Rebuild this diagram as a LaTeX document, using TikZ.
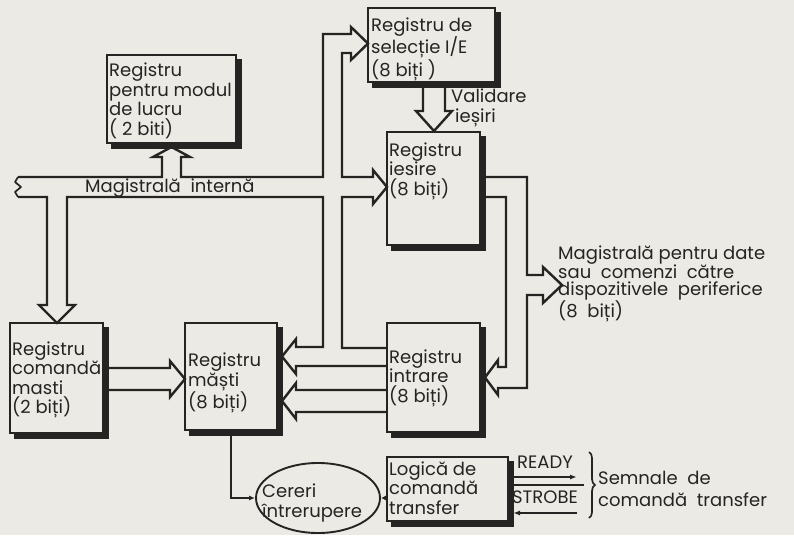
\documentclass[tikz,border=0pt]{standalone}
\usepackage{fontspec}
\setmainfont{Poppins}
\usetikzlibrary{arrows.meta,calc,decorations.pathreplacing,shapes.geometric}
\definecolor{paper}{RGB}{236,234,229}
\definecolor{ink}{RGB}{38,36,34}
\begin{document}
\begin{tikzpicture}[x=1pt,y=-1pt,
  regbox/.style={draw=ink,line width=1.9pt,inner sep=0pt,outer sep=0pt},
  shadeline/.style={draw=ink,line width=5pt,line cap=butt,line join=miter},
  lbl/.style={align=left,anchor=west,inner sep=0pt,text=ink,font=\fontsize{18}{19.5}\selectfont},
  rtxt/.style={align=left,anchor=west,inner sep=0pt,text=ink,font=\fontsize{18}{16.5}\selectfont},
  bus/.style={draw=ink,line width=2.4pt,line join=miter,line cap=butt},
  sig/.style={draw=ink,line width=1.7pt},
]
\fill[paper] (0,0) rectangle (794,535);
\useasboundingbox (0,0) rectangle (794,535);

% register boxes
\node[regbox,minimum width=129pt,minimum height=88pt] (modul) at (171.5,99) {};
\node[regbox,minimum width=127pt,minimum height=74pt] (selectie) at (431.5,45) {};
\node[regbox,minimum width=93pt,minimum height=113pt] (iesire) at (433.5,188.5) {};
\node[regbox,minimum width=93pt,minimum height=110pt] (comanda) at (56.5,378) {};
\node[regbox,minimum width=92pt,minimum height=107pt] (masti) at (231,376.5) {};
\node[regbox,minimum width=93pt,minimum height=109pt] (intrare) at (433.5,377.5) {};
\node[regbox,minimum width=121pt,minimum height=64pt] (logica) at (447.5,489) {};
\node[draw=ink,line width=1.9pt,ellipse,minimum width=124pt,minimum height=70pt,inner sep=0pt] (cereri) at (318,498) {};

\foreach \b in {modul,selectie,iesire,comanda,masti,intrare,logica}
  \draw[shadeline] ($(\b.north east)+(3.5,4)$) |- ($(\b.south west)+(4,3.5)$);

% labels
\node[lbl] (modul-t) at (109,101) {Registru\\pentru modul\\de lucru\\( 2 biti)};
\node[lbl] (selectie-t) at (371,49) {Registru de\\selecție I/E\\(8 biți )};
\node[lbl] (iesire-t) at (389,171) {Registru\\iesire\\(8 biți)};
\node[lbl] (comanda-t) at (12,380) {Registru\\comandă\\masti\\(2 biți)};
\node[lbl] (masti-t) at (188,383) {Registru\\măști\\(8 biți)};
\node[lbl] (intrare-t) at (389,378) {Registru\\intrare\\(8 biți)};
\node[lbl] (logica-t) at (389,488) {Logică de\\comandă\\transfer};
\node[lbl] (cereri-t) at (262,503) {Cereri\\întrerupere};
\node[lbl] (intern) at (85,188) {Magistrală\ \ internă};
\node[lbl,font=\fontsize{18}{20}\selectfont] (validare) at (451,108) {Validare\\\hspace*{4pt}ieșiri};
\node[rtxt] (periferic) at (558,284) {Magistrală pentru date\\sau\ \ comenzi\ \ către\\dispozitivele\ \ periferice\\(8\ \ biți)};
\node[lbl,anchor=center] (ready) at (545,462) {READY};
\node[lbl,anchor=center] (strobe) at (545,497) {STROBE};
\node[lbl,font=\fontsize{18}{22}\selectfont] (semnale) at (598,489) {Semnale\ \ de\\comandă\ \ transfer};

% internal bus (hollow outline)
\draw[bus] (18,177) -- (162,177) -- (162,157) -- (153,157) -- (171.5,147) -- (190,157) -- (181,157) -- (181,177)
  -- (323,177) -- (323,34) -- (351,34) -- (351,27) -- (368,43.5) -- (351,60) -- (351,53) -- (342,53) -- (342,177)
  -- (373,177) -- (373,170) -- (387,187) -- (373,204) -- (373,197) -- (342,197) -- (342,348) -- (387,348);
\draw[bus] (387,366) -- (296,366) -- (296,374) -- (282,356.5) -- (296,339) -- (296,347) -- (323,347) -- (323,197)
  -- (67,197) -- (67,305) -- (75,305) -- (57,323) -- (39,305) -- (47,305) -- (47,197) -- (18,197);
\draw[bus,line width=1.7pt,line join=round] (18,177) -- (15,182) -- (21,187) -- (15,192) -- (18,197);

% intrare -> masti (second)
\draw[bus] (387,390) -- (296,390) -- (296,383) -- (282,401) -- (296,419) -- (296,412) -- (387,412);
% comanda -> masti
\draw[bus] (108,368) -- (170,368) -- (170,361) -- (185,379) -- (170,397) -- (170,390) -- (108,390);
% selectie -> iesire (validare)
\draw[bus] (423,86) -- (423,111) -- (416,111) -- (434,131) -- (452,111) -- (445,111) -- (445,86);
% peripheral data bus
\draw[bus] (485,177) -- (527,177) -- (527,275) -- (543,275) -- (543,267) -- (562,285) -- (543,303) -- (543,295) -- (527,295)
  -- (527,388) -- (498,388) -- (498,395) -- (485,377.5) -- (498,360) -- (498,367) -- (506,367) -- (506,197) -- (485,197);

% signals
\draw[sig,-{Latex[length=6pt,width=5pt]}] (masti.south) |- (cereri.west);
\draw[sig,-{Latex[length=5pt,width=5pt]}] (cereri.east -| logica.west) -- (cereri.east);
\coordinate (ready-end) at (577,477);
\coordinate (strobe-start) at (577,513);
\draw[sig,-{Latex[length=7pt,width=5pt]}] ($(logica.east |- ready-end)+(5,0)$) -- (ready-end);
\draw[sig,-{Latex[length=7pt,width=5pt]}] (strobe-start) -- ($(strobe-start -| logica.east)+(5,0)$);
\draw[sig] (513,485) -- (584,485);
\draw[sig,decorate,decoration={brace,amplitude=6pt}] (589,452) -- (589,518);
\end{tikzpicture}
\end{document}
